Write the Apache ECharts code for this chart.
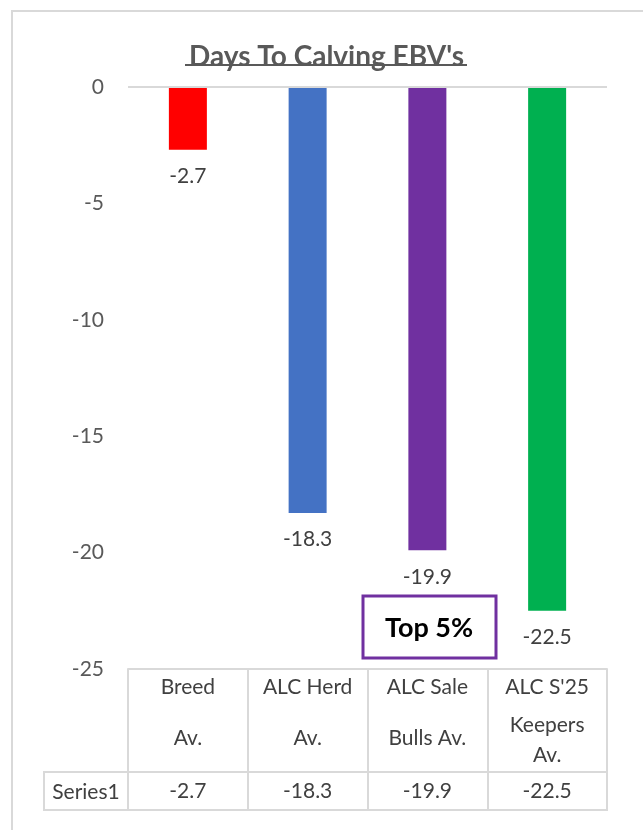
<!DOCTYPE html>
<html>
<head>
<meta charset="utf-8">
<script src="https://cdn.jsdelivr.net/npm/echarts@6/dist/echarts.min.js"></script>
<style>
html,body{margin:0;padding:0;background:#fff;}
#main{width:643px;height:830px;}
</style>
</head>
<body>
<div id="main"></div>
<script>
const chartTitle = "Days To Calving EBV's";
const categories = ["Breed\nAv.", "ALC Herd\nAv.", "ALC Sale\nBulls Av.", "ALC S'25\nKeepers\nAv."];
const values = [-2.7, -18.3, -19.9, -22.5];
const barColors = ["#FF0000", "#4472C4", "#7030A0", "#00B050"];
const seriesName = "Series1";
const yTicks = [-25, -20, -15, -10, -5, 0];
const noteText = "Top 5%";

const FONT = "Lato, 'Open Sans', sans-serif";
const GRID = {left: 128, right: 36, top: 87, bottom: 161};
const gridLine = "#d9d9d9";
const FS = 21;

const chart = echarts.init(document.getElementById('main'));
chart.setOption({
  backgroundColor: '#fff',
  animation: false,
  textStyle: {fontFamily: FONT},
  title: {
    text: chartTitle,
    left: 184,
    top: 38,
    textStyle: {fontFamily: FONT, fontSize: 28, fontWeight: 'bold', color: '#595959'}
  },
  grid: Object.assign({containLabel: false, outerBoundsMode: 'none'}, GRID),
  xAxis: [{
    type: 'category',
    position: 'bottom',
    data: categories,
    axisLine: {show: true, onZero: false, lineStyle: {color: gridLine, width: 2}},
    axisTick: {show: true, alignWithLabel: false, length: 103, lineStyle: {color: gridLine, width: 2}},
    axisLabel: {
      interval: 0,
      margin: 4,
      verticalAlign: 'top',
      formatter: function (v) {
        const lines = v.split('\n');
        if (lines.length === 2) return '{h|' + lines[0] + '}\n{low|' + lines[1] + '}';
        return '{h|' + lines[0] + '}\n{k|' + lines[1] + '}\n{e|' + lines[2] + '}';
      },
      rich: {
        h: {fontSize: FS, lineHeight: 28, color: '#404040', fontFamily: FONT},
        low: {fontSize: FS, lineHeight: 74, color: '#404040', fontFamily: FONT},
        k: {fontSize: FS, lineHeight: 48, color: '#404040', fontFamily: FONT},
        e: {fontSize: FS, lineHeight: 12, color: '#404040', fontFamily: FONT}
      }
    }
  }, {
    type: 'category',
    position: 'bottom',
    offset: 103,
    data: categories,
    axisLine: {show: true, onZero: false, lineStyle: {color: gridLine, width: 2}},
    axisTick: {show: true, alignWithLabel: false, length: 38, lineStyle: {color: gridLine, width: 2}},
    axisLabel: {
      interval: 0,
      margin: 9,
      fontSize: FS,
      color: '#404040',
      fontFamily: FONT,
      formatter: function (v, i) { return String(values[i]); }
    }
  }],
  yAxis: {
    type: 'value',
    min: yTicks[0],
    max: yTicks[yTicks.length - 1],
    interval: 5,
    splitLine: {show: false},
    axisLine: {show: false},
    axisTick: {show: false},
    axisLabel: {fontSize: FS, color: '#595959', margin: 24, fontFamily: FONT}
  },
  series: [{
    type: 'bar',
    name: seriesName,
    xAxisIndex: 0,
    barWidth: 38,
    data: values.map((v, i) => ({value: v, itemStyle: {color: barColors[i]}})),
    label: {
      show: true,
      position: 'bottom',
      distance: 16,
      fontSize: FS,
      color: '#404040',
      fontFamily: FONT
    },
    markLine: {
      silent: true,
      symbol: 'none',
      label: {show: false},
      lineStyle: {color: gridLine, width: 2, type: 'solid'},
      data: [{yAxis: 0}]
    }
  }],
  graphic: [
    {type: 'rect', shape: {x: 12, y: 11, width: 640, height: 840}, style: {fill: 'none', stroke: '#d9d9d9', lineWidth: 2}, silent: true},
    {type: 'line', shape: {x1: 185, y1: 65, x2: 467, y2: 65}, style: {stroke: '#595959', lineWidth: 2}},
    {type: 'rect', shape: {x: 44, y: 772, width: 563, height: 38}, style: {fill: 'none', stroke: gridLine, lineWidth: 2}},
    {type: 'text', x: 86, y: 792, style: {text: seriesName, fontSize: FS, fill: '#404040', fontFamily: FONT, align: 'center', verticalAlign: 'middle'}},
    {type: 'rect', shape: {x: 363, y: 596, width: 133, height: 62}, style: {fill: '#fff', stroke: '#7030A0', lineWidth: 3}},
    {type: 'text', x: 429, y: 628, style: {text: noteText, fontSize: 27, fontWeight: 'bold', fill: '#000', fontFamily: FONT, align: 'center', verticalAlign: 'middle'}}
  ]
});
</script>
</body>
</html>
